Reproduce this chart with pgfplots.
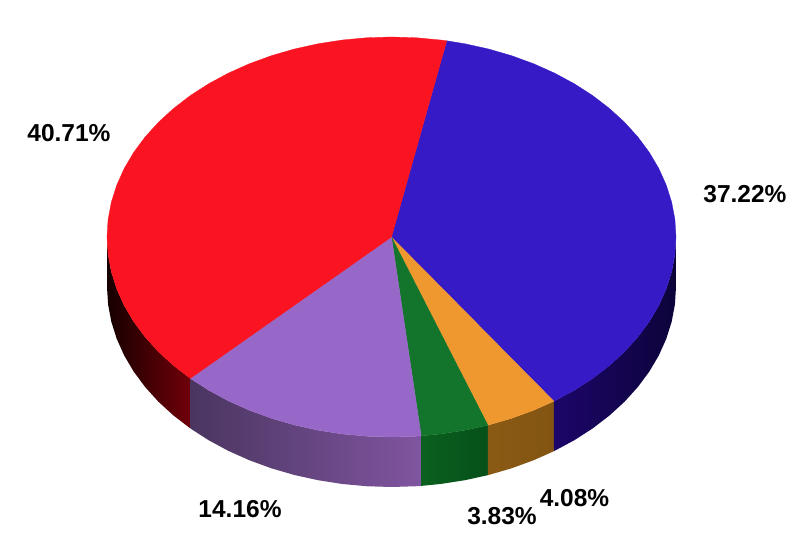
\documentclass[border=0pt]{standalone}
\usepackage{fontspec}
\setmainfont{Liberation Sans}
\usepackage{pgfplots}
\pgfplotsset{compat=1.18}
\definecolor{cred}{HTML}{FA1421}
\definecolor{cblue}{HTML}{351AC6}
\definecolor{corange}{HTML}{EF982F}
\definecolor{cgreen}{HTML}{12752B}
\definecolor{cpurple}{HTML}{9868C8}
\tikzset{lab/.style={font=\fontsize{24.5}{28}\selectfont\bfseries, text=black, inner sep=0pt}}
\begin{document}
\begin{tikzpicture}
\begin{axis}[
scale only axis,
width=800pt, height=541pt,
axis lines=none,
xmin=-1.3761, xmax=1.4359,
ymin=-1.52, ymax=1.185,
clip=false,
]
% keeps the page at the full 800x541 frame
\path (axis cs:-1.3761,-1.52) rectangle (axis cs:1.4359,1.185);
% side walls, rim at y, lower edge at y-0.25
\addplot[draw=none, left color={rgb,255:red,22;green,0;blue,0}, middle color={rgb,255:red,72;green,0;blue,4}, right color={rgb,255:red,112;green,0;blue,8}] coordinates {
(-0.7071,-0.7071) (-0.7660,-0.6428) (-0.8192,-0.5736) (-0.8660,-0.5000) (-0.9063,-0.4226)
(-0.9397,-0.3420) (-0.9659,-0.2588) (-0.9848,-0.1736) (-0.9962,-0.0872) (-1.0000,0)
(-1.0000,-0.25) (-0.9962,-0.3372) (-0.9848,-0.4236) (-0.9659,-0.5088) (-0.9397,-0.5920)
(-0.9063,-0.6726) (-0.8660,-0.7500) (-0.8192,-0.8236) (-0.7660,-0.8928) (-0.7071,-0.9571)
} -- cycle;
\addplot[draw=none, left color={rgb,255:red,74;green,53;blue,96}, right color={rgb,255:red,128;green,85;blue,160}] coordinates {
(-0.7071,-0.7071) (-0.6428,-0.7660) (-0.5736,-0.8192) (-0.5000,-0.8660) (-0.4226,-0.9063)
(-0.3420,-0.9397) (-0.2588,-0.9659) (-0.1736,-0.9848) (-0.0872,-0.9962) (0,-1.0000)
(0.0872,-0.9962) (0.1045,-0.9945)
(0.1045,-1.2445) (0.0872,-1.2462) (0,-1.2500)
(-0.0872,-1.2462) (-0.1736,-1.2348) (-0.2588,-1.2159) (-0.3420,-1.1897) (-0.4226,-1.1563)
(-0.5000,-1.1160) (-0.5736,-1.0692) (-0.6428,-1.0160) (-0.7071,-0.9571)
} -- cycle;
\addplot[draw=none, left color={rgb,255:red,11;green,96;blue,31}, right color={rgb,255:red,6;green,80;blue,26}] coordinates {
(0.1045,-0.9945) (0.1736,-0.9848) (0.2588,-0.9659) (0.3387,-0.9409)
(0.3387,-1.1909) (0.2588,-1.2159) (0.1736,-1.2348) (0.1045,-1.2445)
} -- cycle;
\addplot[draw=none, left color={rgb,255:red,138;green,90;blue,21}, right color={rgb,255:red,131;green,85;blue,18}] coordinates {
(0.3387,-0.9409) (0.3420,-0.9397) (0.4226,-0.9063) (0.5000,-0.8660) (0.5707,-0.8211)
(0.5707,-1.0711) (0.5000,-1.1160) (0.4226,-1.1563) (0.3420,-1.1897) (0.3387,-1.1909)
} -- cycle;
\addplot[draw=none, left color={rgb,255:red,28;green,5;blue,105}, middle color={rgb,255:red,22;green,5;blue,85}, right color={rgb,255:red,13;green,4;blue,58}] coordinates {
(0.5707,-0.8211) (0.6428,-0.7660) (0.7071,-0.7071) (0.7660,-0.6428) (0.8192,-0.5736)
(0.8660,-0.5000) (0.9063,-0.4226) (0.9397,-0.3420) (0.9659,-0.2588) (0.9848,-0.1736)
(0.9962,-0.0872) (1.0000,0)
(1.0000,-0.25) (0.9962,-0.3372) (0.9848,-0.4236) (0.9659,-0.5088) (0.9397,-0.5920)
(0.9063,-0.6726) (0.8660,-0.7500) (0.8192,-0.8236) (0.7660,-0.8928) (0.7071,-0.9571)
(0.6428,-1.0160) (0.5707,-1.0711)
} -- cycle;
% top face: 37.22 blue
\addplot[fill=cblue, draw=cblue, line width=0.3pt] coordinates {
(0,0) (0.1942,0.9810) (0.2588,0.9659) (0.3420,0.9397) (0.4226,0.9063) (0.5000,0.8660)
(0.5736,0.8192) (0.6428,0.7660) (0.7071,0.7071) (0.7660,0.6428) (0.8192,0.5736)
(0.8660,0.5000) (0.9063,0.4226) (0.9397,0.3420) (0.9659,0.2588) (0.9848,0.1736)
(0.9962,0.0872) (1.0000,0) (0.9962,-0.0872) (0.9848,-0.1736) (0.9659,-0.2588)
(0.9397,-0.3420) (0.9063,-0.4226) (0.8660,-0.5000) (0.8192,-0.5736) (0.7660,-0.6428)
(0.7071,-0.7071) (0.6428,-0.7660) (0.5736,-0.8192) (0.5707,-0.8211)
} -- cycle;
% 4.08 orange
\addplot[fill=corange, draw=corange, line width=0.3pt] coordinates {
(0,0) (0.5707,-0.8211) (0.5000,-0.8660) (0.4226,-0.9063) (0.3420,-0.9397) (0.3387,-0.9409)
} -- cycle;
% 3.83 green
\addplot[fill=cgreen, draw=cgreen, line width=0.3pt] coordinates {
(0,0) (0.3387,-0.9409) (0.2588,-0.9659) (0.1736,-0.9848) (0.1045,-0.9945)
} -- cycle;
% 14.16 purple
\addplot[fill=cpurple, draw=cpurple, line width=0.3pt] coordinates {
(0,0) (0.1045,-0.9945) (0.0872,-0.9962) (0,-1.0000) (-0.0872,-0.9962) (-0.1736,-0.9848)
(-0.2588,-0.9659) (-0.3420,-0.9397) (-0.4226,-0.9063) (-0.5000,-0.8660) (-0.5736,-0.8192)
(-0.6428,-0.7660) (-0.7071,-0.7071)
} -- cycle;
% 40.71 red
\addplot[fill=cred, draw=cred, line width=0.3pt] coordinates {
(0,0) (-0.7071,-0.7071) (-0.7660,-0.6428) (-0.8192,-0.5736) (-0.8660,-0.5000)
(-0.9063,-0.4226) (-0.9397,-0.3420) (-0.9659,-0.2588) (-0.9848,-0.1736) (-0.9962,-0.0872)
(-1.0000,0) (-0.9962,0.0872) (-0.9848,0.1736) (-0.9659,0.2588) (-0.9397,0.3420)
(-0.9063,0.4226) (-0.8660,0.5000) (-0.8192,0.5736) (-0.7660,0.6428) (-0.7071,0.7071)
(-0.6428,0.7660) (-0.5736,0.8192) (-0.5000,0.8660) (-0.4226,0.9063) (-0.3420,0.9397)
(-0.2588,0.9659) (-0.1736,0.9848) (-0.0872,0.9962) (0,1.0000) (0.0872,0.9962)
(0.1736,0.9848) (0.1942,0.9810)
} -- cycle;
\node[lab] at (axis cs:-1.1336,0.52) {40.71\%};
\node[lab] at (axis cs:1.2425,0.215) {37.22\%};
\node[lab] at (axis cs:-0.5325,-1.36) {14.16\%};
\node[lab] at (axis cs:0.3884,-1.395) {3.83\%};
\node[lab] at (axis cs:0.6432,-1.305) {4.08\%};
\end{axis}
\end{tikzpicture}
\end{document}
